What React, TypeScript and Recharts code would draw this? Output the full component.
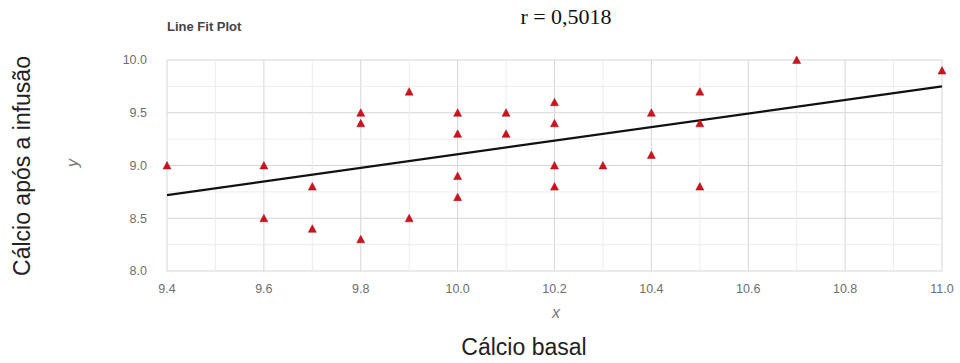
import React from "react";
import {
  ScatterChart,
  Scatter,
  XAxis,
  YAxis,
  CartesianGrid,
  ReferenceLine,
} from "recharts";

const basal = [9.4, 9.6, 9.6, 9.7, 9.7, 9.8, 9.8, 9.8, 9.9, 9.9, 10.0, 10.0, 10.0, 10.0, 10.1, 10.1, 10.2, 10.2, 10.2, 10.2, 10.3, 10.4, 10.4, 10.5, 10.5, 10.5, 10.7, 11.0];
const apos = [9.0, 9.0, 8.5, 8.8, 8.4, 9.5, 9.4, 8.3, 9.7, 8.5, 9.5, 9.3, 8.9, 8.7, 9.5, 9.3, 9.6, 9.4, 9.0, 8.8, 9.0, 9.5, 9.1, 9.7, 9.4, 8.8, 10.0, 9.9];

const fitX = [9.4, 11.0];
const fitY = [8.72, 9.75];

const xTicks = [9.4, 9.6, 9.8, 10.0, 10.2, 10.4, 10.6, 10.8, 11.0];
const yTicks = [8.0, 8.5, 9.0, 9.5, 10.0];
const xMinor = [9.5, 9.7, 9.9, 10.1, 10.3, 10.5, 10.7, 10.9];
const yMinor = [8.25, 8.75, 9.25, 9.75];

const points = basal.map((x, i) => ({ x, y: apos[i] }));
const fitLine = fitX.map((x, i) => ({ x, y: fitY[i] }));

const sans = "'Liberation Sans', Arial, sans-serif";

const Tri = (props: any) => {
  const { cx, cy } = props;
  if (cx == null || cy == null) return <g />;
  const hw = 4;
  const h = 7;
  return (
    <polygon
      points={`${cx},${cy - h / 2 - 0.5} ${cx + hw},${cy + h / 2} ${cx - hw},${cy + h / 2}`}
      fill="#d0121a"
      stroke="#a01020"
      strokeWidth={0.5}
    />
  );
};

export default function App() {
  return (
    <div style={{ position: "absolute", left: 0, top: 0, width: 960, height: 363, background: "#fff", fontFamily: sans }}>
      <ScatterChart
        width={960}
        height={363}
        margin={{ top: 60, right: 18, bottom: 0, left: 0 }}
      >
        <CartesianGrid stroke="#d6d6d6" strokeWidth={1} />
        {xMinor.map((v) => (
          <ReferenceLine key={"xm" + v} x={v} stroke="#ececec" strokeWidth={1} />
        ))}
        {yMinor.map((v) => (
          <ReferenceLine key={"ym" + v} y={v} stroke="#ececec" strokeWidth={1} />
        ))}
        <XAxis
          type="number"
          dataKey="x"
          domain={[9.4, 11.0]}
          ticks={xTicks}
          tickFormatter={(v: number) => v.toFixed(1)}
          axisLine={false}
          tickLine={false}
          height={92}
          tick={{ fill: "#6e6e6e", fontSize: 12.5, fontFamily: sans }}
          tickMargin={7}
          interval={0}
        />
        <YAxis
          type="number"
          dataKey="y"
          domain={[8.0, 10.0]}
          ticks={yTicks}
          tickFormatter={(v: number) => v.toFixed(1)}
          axisLine={false}
          tickLine={false}
          width={167}
          tick={{ fill: "#6e6e6e", fontSize: 12.5, fontFamily: sans }}
          tickMargin={14}
          interval={0}
        />
        <Scatter
          data={fitLine}
          line={{ stroke: "#111", strokeWidth: 2.2 }}
          shape={() => <g />}
          isAnimationActive={false}
        />
        <Scatter
          data={points}
          shape={Tri}
          fill="#d0121a"
          isAnimationActive={false}
        />
      </ScatterChart>
      <div style={{ position: "absolute", left: 167, top: 19, fontSize: 13, fontWeight: "bold", color: "#444" }}>
        Line Fit Plot
      </div>
      <div style={{ position: "absolute", left: 466, width: 200, top: 4, textAlign: "center", fontSize: 22, fontFamily: "'Liberation Serif', 'Times New Roman', serif", color: "#111" }}>
        r = 0,5018
      </div>
      <div style={{ position: "absolute", left: 356, width: 400, top: 304, textAlign: "center", fontSize: 16, fontStyle: "italic", color: "#777" }}>
        x
      </div>
      <div style={{ position: "absolute", left: 324, width: 400, top: 334, textAlign: "center", fontSize: 23, color: "#222" }}>
        Cálcio basal
      </div>
      <div style={{ position: "absolute", left: 22, top: 166, transform: "translate(-50%, -50%) rotate(-90deg)", whiteSpace: "nowrap", fontSize: 23, color: "#222" }}>
        Cálcio após a infusão
      </div>
      <div style={{ position: "absolute", left: 73, top: 163, transform: "translate(-50%, -50%) rotate(-90deg)", whiteSpace: "nowrap", fontSize: 16, fontStyle: "italic", color: "#777" }}>
        y
      </div>
    </div>
  );
}
